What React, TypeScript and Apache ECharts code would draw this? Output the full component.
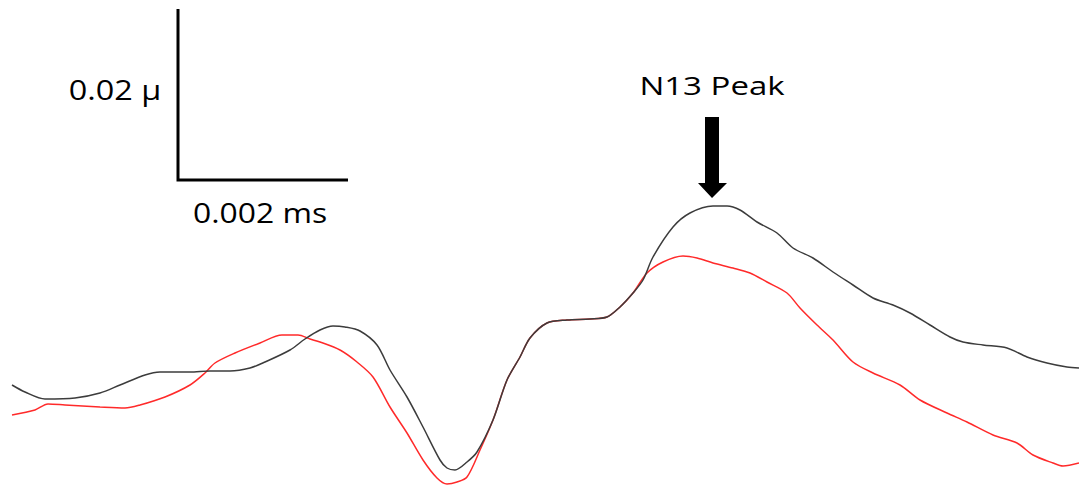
import React, { useEffect, useRef } from "react";
import * as echarts from "echarts";

// Time positions (sample units along the sweep) and amplitudes (arbitrary units, up = positive)
const timeGray = [12, 25, 45, 75, 100, 120, 145, 160, 190, 210, 230, 250, 265, 290, 305, 320, 333, 345, 360, 377, 390, 407, 423, 440, 447, 455, 467, 477, 493, 507, 520, 530, 547, 567, 590, 607, 620, 633, 643, 653, 673, 690, 713, 727, 740, 757, 777, 793, 813, 833, 853, 873, 893, 910, 930, 950, 963, 983, 1007, 1027, 1047, 1067, 1079];
const ampGray = [103, 96, 89, 90, 95, 103, 113, 116, 116, 117, 117, 120, 126, 138, 149, 158, 162, 161, 157, 143, 118, 91, 61, 28, 20, 18, 26, 36, 68, 108, 131, 150, 165, 168, 169, 171, 181, 195, 208, 231, 261, 275, 282, 282, 278, 266, 255, 240, 230, 216, 203, 190, 183, 175, 163, 151, 146, 143, 140, 131, 125, 121, 120];

const timeRed = [12, 35, 48, 65, 100, 125, 140, 165, 190, 205, 215, 235, 260, 282, 298, 310, 320, 340, 357, 373, 390, 407, 423, 437, 447, 457, 467, 480, 493, 507, 520, 530, 547, 567, 590, 607, 620, 633, 647, 663, 683, 697, 713, 733, 750, 767, 787, 800, 817, 833, 853, 873, 900, 920, 947, 967, 993, 1017, 1033, 1053, 1063, 1079];
const ampRed = [73, 78, 84, 83, 81, 80, 83, 91, 103, 115, 125, 135, 145, 153, 153, 149, 146, 138, 126, 111, 81, 55, 28, 10, 4, 6, 11, 38, 68, 108, 131, 150, 165, 168, 169, 171, 181, 195, 215, 226, 232, 230, 225, 220, 215, 206, 195, 180, 163, 148, 126, 115, 103, 88, 75, 66, 53, 45, 33, 25, 22, 25];

// Scale bar corner points (time, amplitude)
const scaleBarTime = [178, 178, 348];
const scaleBarAmp = [479, 308, 308];

const labelAmp = "0.02 µ";
const labelTime = "0.002 ms";
const peakLabel = "N13 Peak";

export default function App() {
  const ref = useRef<HTMLDivElement>(null);
  useEffect(() => {
    if (!ref.current) return;
    const chart = echarts.init(ref.current, null, { renderer: "svg" });
    const pair = (t: number[], a: number[]) => t.map((x, i) => [x, a[i]]);
    const font = "'Open Sans', sans-serif";
    chart.setOption({
      animation: false,
      backgroundColor: "#ffffff",
      grid: { left: 0, right: 0, top: 0, bottom: 0, containLabel: false },
      xAxis: { type: "value", min: 0, max: 1079, show: false },
      yAxis: { type: "value", min: 0, max: 488, show: false },
      series: [
        {
          type: "line",
          data: pair(timeRed, ampRed),
          smooth: 0.3,
          symbol: "none",
          lineStyle: { color: "#ff2a2a", width: 1.5 },
          z: 2,
        },
        {
          type: "line",
          data: pair(timeGray, ampGray),
          smooth: 0.3,
          symbol: "none",
          lineStyle: { color: "#3c3c3c", width: 1.5 },
          z: 3,
        },
        {
          type: "line",
          data: pair(scaleBarTime, scaleBarAmp),
          symbol: "none",
          lineStyle: { color: "#000000", width: 3, join: "miter" },
          z: 4,
        },
      ],
      graphic: [
        {
          type: "text",
          x: 115,
          y: 90,
          scaleX: 1.2,
          style: { text: labelAmp, font: `27px ${font}`, fill: "#000", textAlign: "center", textVerticalAlign: "middle" },
        },
        {
          type: "text",
          x: 260,
          y: 212,
          scaleX: 1.18,
          style: { text: labelTime, font: `27px ${font}`, fill: "#000", textAlign: "center", textVerticalAlign: "middle" },
        },
        {
          type: "text",
          x: 712,
          y: 85,
          scaleX: 1.27,
          style: { text: peakLabel, font: `26px ${font}`, fill: "#000", textAlign: "center", textVerticalAlign: "middle" },
        },
        {
          type: "polygon",
          shape: {
            points: [
              [705, 117], [719, 117], [719, 183], [727, 183], [712, 198], [698, 183], [705, 183],
            ],
          },
          style: { fill: "#000" },
        },
      ],
    });
    return () => chart.dispose();
  }, []);
  return (
    <div
      ref={ref}
      style={{ position: "fixed", left: 0, top: 0, width: 1079, height: 488, background: "#fff" }}
    />
  );
}
